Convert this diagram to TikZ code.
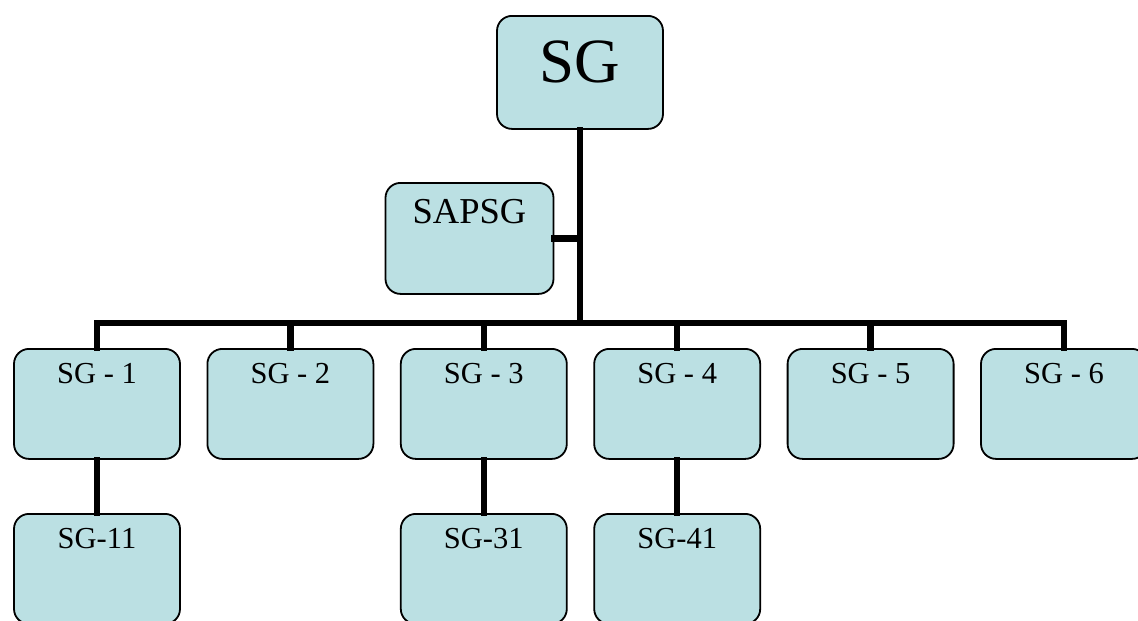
\documentclass[tikz,border=0pt]{standalone}
\usepackage{fontspec}
\setmainfont{Liberation Serif}
\definecolor{boxfill}{RGB}{187,224,227}
\begin{document}
\begin{tikzpicture}[x=1pt,y=-1pt,
  orgbox/.style={draw=black,line width=1.8pt,fill=boxfill,rounded corners=15pt,
    inner sep=0pt,minimum width=166pt,anchor=north},
  rowbox/.style={orgbox,font=\fontsize{30.5}{30.5}\selectfont,text height=35pt,text depth=75pt},
  link/.style={line width=6.5pt,line join=miter,line cap=rect}]
\useasboundingbox (0,0) rectangle (1138,621);
\clip (0,0) rectangle (1138,621);

% head of the chart and its staff box
\node[orgbox,font=\fontsize{63}{63}\selectfont,text height=67pt,text depth=46pt] (sg) at (580,15) {SG};
\node[orgbox,minimum width=168pt,font=\fontsize{36.5}{36.5}\selectfont,text height=41pt,text depth=70pt] (sapsg) at (469.5,182) {SAPSG};

% first level
\node[rowbox] (sg1) at (97,348) {SG - 1};
\node[rowbox] (sg2) at (290.4,348) {SG - 2};
\node[rowbox] (sg3) at (483.8,348) {SG - 3};
\node[rowbox] (sg4) at (677.2,348) {SG - 4};
\node[rowbox] (sg5) at (870.6,348) {SG - 5};
\node[rowbox] (sg6) at (1064,348) {SG - 6};

% second level
\node[rowbox] (sg11) at (97,513) {SG-11};
\node[rowbox] (sg31) at (483.8,513) {SG-31};
\node[rowbox] (sg41) at (677.2,513) {SG-41};

% connectors
\coordinate (bar) at (580,323);
\begin{scope}[on background layer/.try]
\draw[link] (sg.south) -- (bar);
\draw[link] (sapsg.east) -- (sapsg.east -| sg.south);
\foreach \c in {sg1,sg2,sg3,sg4,sg5,sg6}
  \draw[link] (bar) -| (\c.north);
\draw[link] (sg1.south) -- (sg11.north);
\draw[link] (sg3.south) -- (sg31.north);
\draw[link] (sg4.south) -- (sg41.north);
\end{scope}
\end{tikzpicture}
\end{document}
